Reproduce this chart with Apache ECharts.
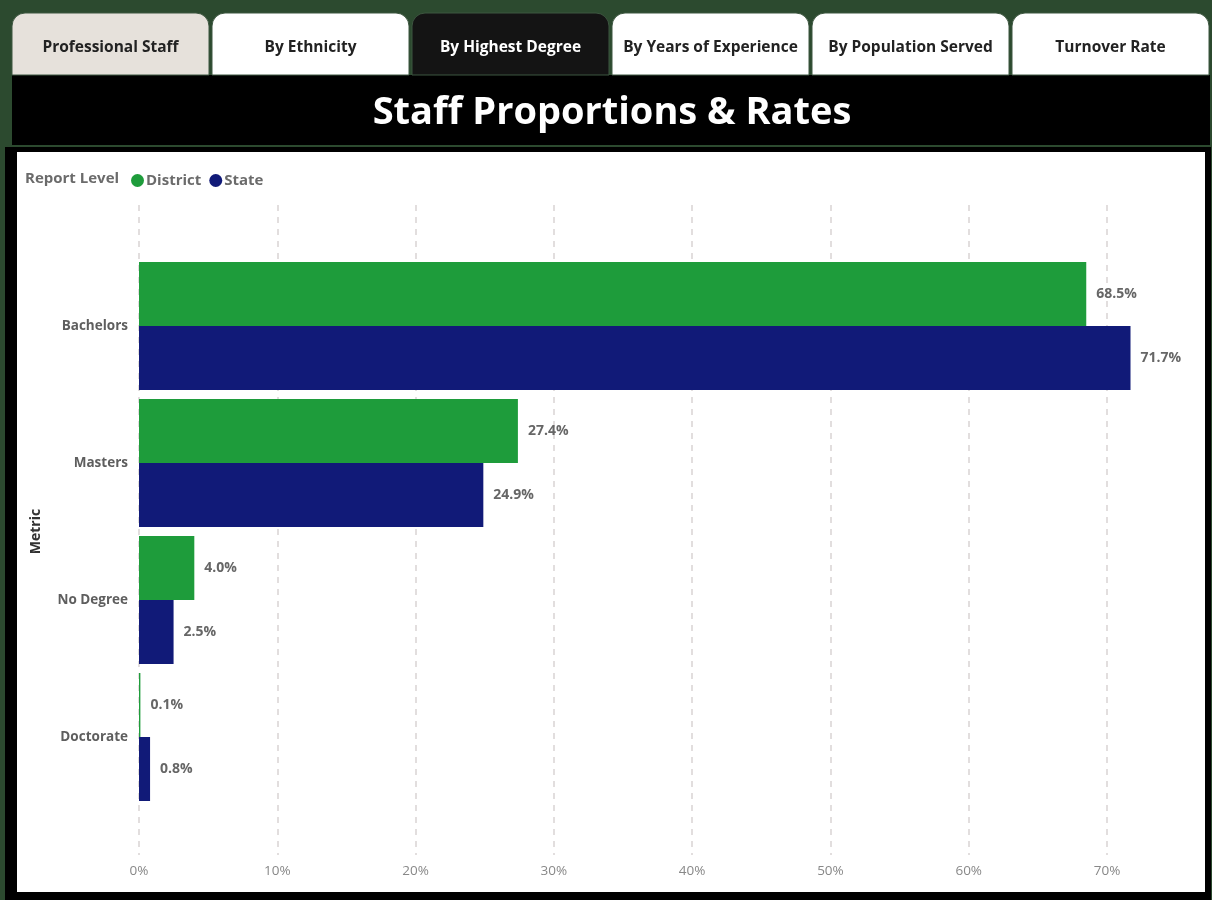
<!DOCTYPE html>
<html><head><meta charset="utf-8">
<script src="https://cdn.jsdelivr.net/npm/echarts@6/dist/echarts.min.js"></script>
<style>html,body{margin:0;padding:0;background:#2c4a2f}#c{width:1212px;height:900px}</style>
</head><body><div id="c"></div>
<script>
const categories = ['Bachelors', 'Masters', 'No Degree', 'Doctorate'];
const districtValues = [68.5, 27.4, 4.0, 0.1];
const stateValues = [71.7, 24.9, 2.5, 0.8];
const tabLabels = ['Professional Staff', 'By Ethnicity', 'By Highest Degree', 'By Years of Experience', 'By Population Served', 'Turnover Rate'];
const xTicks = [0, 10, 20, 30, 40, 50, 60, 70];

const FONT = '"Open Sans", "Noto Sans", sans-serif';
const chart = echarts.init(document.getElementById('c'), null, {renderer: 'canvas'});

const tabFills = ['#e6e1db', '#ffffff', '#141414', '#ffffff', '#ffffff', '#ffffff'];
const tabText = ['#222', '#222', '#fff', '#222', '#222', '#222'];
const graphics = [];
graphics.push({type: 'rect', z: -10, shape: {x: 5, y: 147, width: 1206, height: 753}, style: {fill: '#000'}});
graphics.push({type: 'rect', z: -9, shape: {x: 17, y: 152, width: 1188, height: 740}, style: {fill: '#fff'}});
graphics.push({type: 'rect', z: -10, shape: {x: 12, y: 75, width: 1198, height: 70}, style: {fill: '#000'}});
graphics.push({type: 'text', z: 5, style: {x: 612, y: 113, text: 'Staff Proportions & Rates', fill: '#fff', font: 'bold 38px ' + FONT, align: 'center', verticalAlign: 'middle'}});
tabLabels.forEach((t, i) => {
  const x = 12 + i * 200;
  graphics.push({type: 'rect', z: -10, shape: {x: x, y: 13, width: 197, height: 62, r: [13, 13, 0, 0]}, style: {fill: tabFills[i], stroke: '#3d5640', lineWidth: 1}});
  graphics.push({type: 'text', z: 5, style: {x: x + 98.5, y: 48, text: t, fill: tabText[i], font: 'bold 15.5px ' + FONT, align: 'center', verticalAlign: 'middle'}});
});
graphics.push({type: 'text', z: 5, style: {x: 25, y: 179, text: 'Report Level', fill: '#6b6b6b', font: 'bold 15px ' + FONT, align: 'left', verticalAlign: 'middle'}});

const labelFmt = p => p.value.toFixed(1) + '%';
const barLabel = {show: true, position: 'right', distance: 10, formatter: labelFmt, color: '#666', fontSize: 14, fontWeight: 'bold', fontFamily: FONT};

chart.setOption({
  backgroundColor: '#2c4a2f',
  animation: false,
  graphic: graphics,
  legend: {
    data: ['District', 'State'], icon: 'circle', left: 126, top: 168, itemWidth: 13, itemHeight: 13, itemGap: 8,
    textStyle: {color: '#6b6b6b', fontSize: 15, fontWeight: 'bold', fontFamily: FONT, padding: [0, 0, 0, -3]}
  },
  grid: [
    {left: 139, right: 105, top: 205, bottom: 45},
    {left: 139, right: 105, top: 257.5, bottom: 94.5}
  ],
  xAxis: [
    {gridIndex: 0, type: 'value', min: 0, max: 70, interval: 10,
      axisLine: {show: false}, axisTick: {show: false},
      axisLabel: {formatter: v => xTicks.includes(v) ? v + '%' : '', color: '#888', fontSize: 13.5, fontFamily: FONT, margin: 9},
      splitLine: {show: true, lineStyle: {color: '#e2dede', width: 2, type: [6, 6]}}},
    {gridIndex: 1, type: 'value', min: 0, max: 70, show: false}
  ],
  yAxis: [
    {gridIndex: 0, type: 'value', show: false},
    {gridIndex: 1, type: 'category', data: categories, inverse: true,
      axisLine: {show: false}, axisTick: {show: false},
      axisLabel: {color: '#5e5e5e', fontSize: 13.5, fontWeight: 'bold', fontFamily: FONT, margin: 11},
      name: 'Metric', nameLocation: 'middle', nameRotate: 90, nameGap: 96,
      nameTextStyle: {color: '#333', fontSize: 14, fontWeight: 'bold', fontFamily: FONT}}
  ],
  series: [
    {name: 'District', type: 'bar', xAxisIndex: 1, yAxisIndex: 1, data: districtValues, barWidth: 64, barGap: '0%', clip: false,
      itemStyle: {color: '#1e9c3b'}, label: barLabel},
    {name: 'State', type: 'bar', xAxisIndex: 1, yAxisIndex: 1, data: stateValues, barWidth: 64, barGap: '0%', clip: false,
      itemStyle: {color: '#111a78'}, label: barLabel}
  ]
});
</script></body></html>
